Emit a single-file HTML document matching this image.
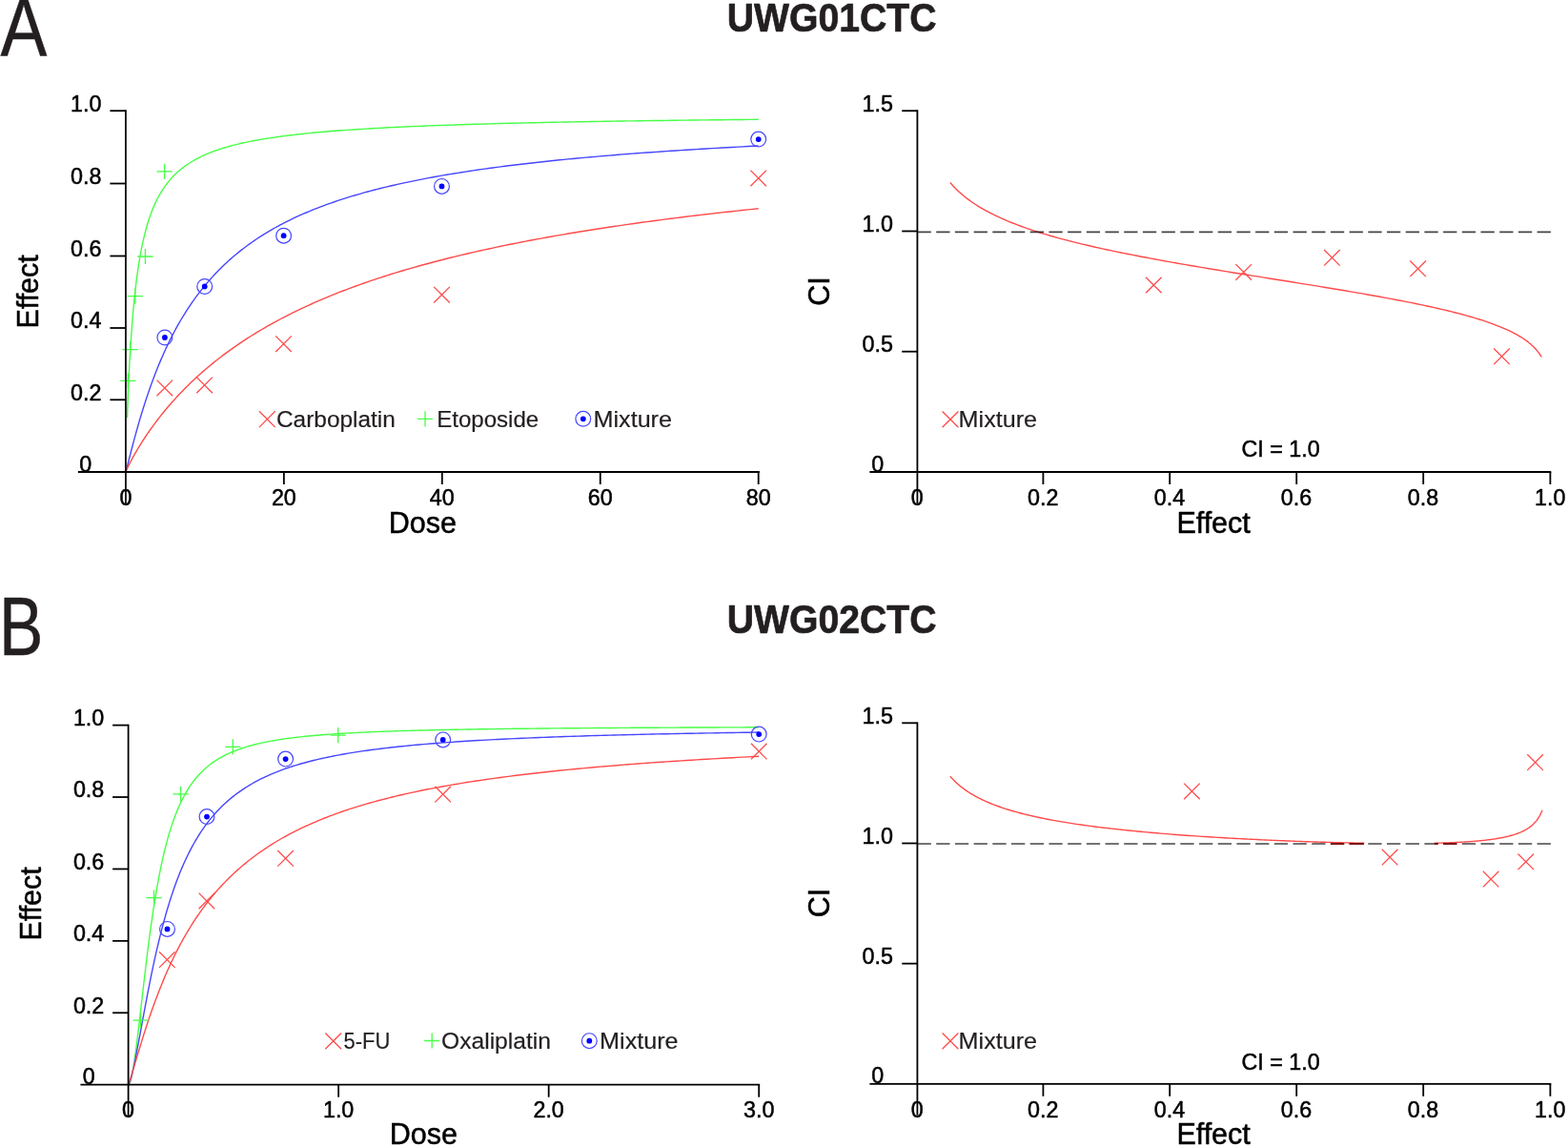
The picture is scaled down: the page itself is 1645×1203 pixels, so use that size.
<!DOCTYPE html>
<html lang="en">
<head>
<meta charset="utf-8">
<title>Dose-effect curves and combination index plots: UWG01CTC and UWG02CTC</title>
<style>
html,body{margin:0;padding:0;background:#fff;}
body{width:1645px;height:1203px;overflow:hidden;font-family:"Liberation Sans",sans-serif;}
svg{display:block;}
</style>
</head>
<body>
<svg width="1645" height="1203" viewBox="0 0 1645 1203" font-family="'Liberation Sans', sans-serif" role="img" aria-label="Dose-effect curves and combination index plots for UWG01CTC and UWG02CTC">
<rect width="1645" height="1203" fill="#ffffff"/>
<path d="M133.48 437.96L133.48 437.87L133.49 437.54L133.51 436.92L133.54 436.01L133.59 434.78L133.64 433.23L133.71 431.37L133.79 429.19L133.88 426.71L133.99 423.92L134.11 420.85L134.24 417.5L134.39 413.9L134.55 410.06L134.72 406.01L134.91 401.75L135.12 397.32L135.34 392.74L135.57 388.02L135.82 383.18L136.09 378.25L136.37 373.24L136.67 368.18L136.98 363.07L137.31 357.94L137.65 352.8L138.02 347.67L138.39 342.56L138.79 337.47L139.2 332.43L139.63 327.44L140.07 322.5L140.54 317.63L141.02 312.84L141.51 308.13L142.03 303.49L142.56 298.95L143.11 294.5L143.67 290.14L144.26 285.87L144.86 281.7L145.48 277.64L146.11 273.66L146.77 269.79L147.44 266.02L148.14 262.34L148.85 258.76L149.58 255.28L150.32 251.89L151.09 248.59L151.87 245.39L152.68 242.27L153.5 239.24L154.34 236.3L155.2 233.45L156.07 230.67L156.97 227.98L157.89 225.36L158.82 222.82L159.78 220.35L160.75 217.96L161.75 215.64L162.76 213.38L163.79 211.19L164.84 209.06L165.91 207L167.01 204.99L168.12 203.04L169.25 201.15L170.4 199.32L171.57 197.54L172.76 195.8L173.97 194.12L175.2 192.49L176.45 190.9L177.72 189.36L179.01 187.86L180.32 186.4L181.65 184.98L183.01 183.61L184.38 182.27L185.77 180.97L187.18 179.7L188.62 178.47L190.07 177.27L191.55 176.11L193.04 174.97L194.56 173.87L196.1 172.8L197.66 171.75L199.24 170.73L200.84 169.74L202.46 168.77L204.1 167.83L205.76 166.92L207.45 166.02L209.15 165.15L210.88 164.3L212.63 163.48L214.4 162.67L216.19 161.88L218 161.12L219.84 160.37L221.69 159.64L223.57 158.93L225.47 158.23L227.39 157.55L229.33 156.89L231.29 156.25L233.28 155.61L235.28 155L237.31 154.4L239.36 153.81L241.43 153.23L243.53 152.67L245.64 152.12L247.78 151.59L249.94 151.06L252.13 150.55L254.33 150.05L256.56 149.56L258.81 149.08L261.08 148.61L263.37 148.15L265.69 147.71L268.02 147.27L270.39 146.84L272.77 146.42L275.17 146L277.6 145.6L280.05 145.21L282.52 144.82L285.02 144.44L287.54 144.07L290.08 143.71L292.64 143.35L295.23 143L297.84 142.66L300.47 142.33L303.12 142L305.8 141.68L308.5 141.36L311.22 141.05L313.97 140.75L316.74 140.45L319.53 140.16L322.35 139.87L325.18 139.59L328.05 139.31L330.93 139.04L333.84 138.78L336.77 138.52L339.72 138.26L342.7 138.01L345.7 137.76L348.72 137.52L351.77 137.28L354.84 137.05L357.94 136.82L361.05 136.6L364.19 136.37L367.36 136.16L370.55 135.94L373.76 135.73L376.99 135.53L380.25 135.33L383.53 135.13L386.84 134.93L390.17 134.74L393.52 134.55L396.9 134.36L400.3 134.18L403.73 134L407.17 133.82L410.65 133.65L414.14 133.48L417.66 133.31L421.21 133.14L424.78 132.98L428.37 132.82L431.98 132.66L435.62 132.51L439.29 132.35L442.98 132.2L446.69 132.06L450.43 131.91L454.19 131.77L457.97 131.62L461.78 131.49L465.62 131.35L469.47 131.21L473.36 131.08L477.26 130.95L481.19 130.82L485.15 130.69L489.13 130.57L493.13 130.45L497.16 130.32L501.22 130.21L505.29 130.09L509.4 129.97L513.52 129.86L517.67 129.74L521.85 129.63L526.05 129.52L530.28 129.41L534.53 129.31L538.8 129.2L543.1 129.1L547.42 129L551.77 128.9L556.15 128.8L560.55 128.7L564.97 128.6L569.42 128.51L573.89 128.41L578.39 128.32L582.91 128.23L587.46 128.14L592.03 128.05L596.63 127.96L601.25 127.88L605.9 127.79L610.58 127.71L615.27 127.62L620 127.54L624.75 127.46L629.52 127.38L634.32 127.3L639.14 127.22L643.99 127.15L648.87 127.07L653.77 127L658.69 126.92L663.64 126.85L668.62 126.78L673.62 126.7L678.65 126.63L683.7 126.56L688.78 126.5L693.88 126.43L699.01 126.36L704.16 126.3L709.34 126.23L714.55 126.17L719.78 126.1L725.03 126.04L730.32 125.98L735.62 125.91L740.96 125.85L746.31 125.79L751.7 125.73L757.11 125.68L762.54 125.62L768.01 125.56L773.49 125.5L779.01 125.45L784.54 125.39L790.11 125.34L795.7 125.28" stroke="#46ff46" stroke-width="1.4" fill="none" stroke-linejoin="round" />
<path d="M131.9 495L131.9 494.99L131.91 494.96L131.94 494.9L131.97 494.79L132.01 494.65L132.07 494.47L132.13 494.23L132.21 493.95L132.31 493.62L132.41 493.23L132.53 492.79L132.66 492.3L132.81 491.74L132.97 491.13L133.15 490.46L133.34 489.72L133.54 488.93L133.77 488.07L134 487.15L134.25 486.17L134.52 485.13L134.8 484.02L135.1 482.85L135.41 481.62L135.74 480.32L136.09 478.97L136.45 477.55L136.83 476.07L137.23 474.53L137.64 472.94L138.07 471.28L138.51 469.57L138.98 467.8L139.46 465.98L139.95 464.1L140.47 462.17L141 460.19L141.55 458.16L142.12 456.08L142.71 453.95L143.31 451.78L143.93 449.57L144.57 447.31L145.23 445.02L145.9 442.68L146.59 440.31L147.31 437.91L148.04 435.47L148.79 433L149.55 430.51L150.34 427.98L151.14 425.43L151.97 422.86L152.81 420.26L153.67 417.64L154.55 415.01L155.45 412.36L156.37 409.69L157.31 407.01L158.27 404.32L159.24 401.62L160.24 398.92L161.25 396.2L162.29 393.48L163.34 390.76L164.42 388.03L165.51 385.31L166.62 382.58L167.76 379.86L168.91 377.14L170.08 374.42L171.28 371.72L172.49 369.01L173.72 366.32L174.98 363.64L176.25 360.96L177.54 358.3L178.86 355.65L180.19 353.01L181.55 350.39L182.92 347.78L184.32 345.19L185.74 342.62L187.17 340.06L188.63 337.52L190.11 334.99L191.61 332.49L193.13 330.01L194.67 327.54L196.23 325.1L197.82 322.68L199.42 320.27L201.04 317.89L202.69 315.54L204.36 313.2L206.05 310.89L207.76 308.6L209.49 306.33L211.24 304.08L213.01 301.86L214.81 299.67L216.63 297.49L218.46 295.34L220.32 293.21L222.21 291.11L224.11 289.03L226.03 286.98L227.98 284.95L229.95 282.94L231.94 280.95L233.95 278.99L235.98 277.06L238.04 275.14L240.11 273.25L242.21 271.39L244.34 269.55L246.48 267.73L248.64 265.93L250.83 264.16L253.04 262.4L255.27 260.68L257.53 258.97L259.8 257.29L262.1 255.62L264.43 253.98L266.77 252.36L269.13 250.77L271.52 249.19L273.93 247.64L276.37 246.1L278.82 244.59L281.3 243.1L283.8 241.62L286.33 240.17L288.87 238.74L291.44 237.32L294.04 235.93L296.65 234.55L299.29 233.2L301.95 231.86L304.63 230.54L307.34 229.24L310.07 227.95L312.82 226.69L315.6 225.44L318.4 224.21L321.22 222.99L324.06 221.8L326.93 220.62L329.82 219.45L332.74 218.3L335.68 217.17L338.64 216.05L341.62 214.95L344.63 213.87L347.66 212.8L350.71 211.74L353.79 210.7L356.89 209.67L360.02 208.66L363.17 207.66L366.34 206.67L369.53 205.7L372.75 204.74L376 203.8L379.26 202.87L382.55 201.95L385.87 201.04L389.2 200.15L392.57 199.26L395.95 198.39L399.36 197.54L402.79 196.69L406.25 195.86L409.73 195.03L413.23 194.22L416.76 193.42L420.32 192.63L423.89 191.85L427.49 191.08L431.12 190.32L434.77 189.57L438.44 188.83L442.14 188.11L445.86 187.39L449.61 186.68L453.38 185.98L457.17 185.29L460.99 184.61L464.83 183.93L468.7 183.27L472.59 182.62L476.51 181.97L480.45 181.33L484.41 180.71L488.4 180.08L492.41 179.47L496.45 178.87L500.51 178.27L504.6 177.68L508.71 177.1L512.85 176.53L517.01 175.96L521.2 175.4L525.41 174.85L529.64 174.3L533.9 173.77L538.19 173.24L542.5 172.71L546.83 172.19L551.19 171.68L555.58 171.18L559.99 170.68L564.42 170.19L568.88 169.7L573.36 169.22L577.87 168.75L582.41 168.28L586.96 167.82L591.55 167.37L596.16 166.91L600.79 166.47L605.45 166.03L610.14 165.6L614.84 165.17L619.58 164.74L624.34 164.33L629.12 163.91L633.93 163.5L638.77 163.1L643.63 162.7L648.52 162.31L653.43 161.92L658.37 161.54L663.33 161.16L668.32 160.78L673.33 160.41L678.37 160.04L683.43 159.68L688.52 159.33L693.64 158.97L698.78 158.62L703.94 158.28L709.14 157.94L714.35 157.6L719.6 157.27L724.87 156.94L730.16 156.61L735.48 156.29L740.83 155.97L746.2 155.66L751.59 155.35L757.02 155.04L762.47 154.73L767.94 154.43L773.44 154.14L778.97 153.84L784.52 153.55L790.1 153.27L795.7 152.98" stroke="#4646ff" stroke-width="1.4" fill="none" stroke-linejoin="round" />
<path d="M131.9 495L131.9 494.99L131.91 494.95L131.94 494.89L131.97 494.8L132.01 494.69L132.07 494.54L132.13 494.37L132.21 494.18L132.31 493.95L132.41 493.7L132.53 493.42L132.66 493.12L132.81 492.78L132.97 492.42L133.15 492.03L133.34 491.62L133.54 491.17L133.77 490.7L134 490.21L134.25 489.68L134.52 489.13L134.8 488.55L135.1 487.95L135.41 487.32L135.74 486.67L136.09 485.98L136.45 485.28L136.83 484.55L137.23 483.79L137.64 483.01L138.07 482.2L138.51 481.37L138.98 480.52L139.46 479.64L139.95 478.74L140.47 477.82L141 476.87L141.55 475.91L142.12 474.92L142.71 473.91L143.31 472.87L143.93 471.82L144.57 470.75L145.23 469.66L145.9 468.55L146.59 467.42L147.31 466.27L148.04 465.1L148.79 463.92L149.55 462.71L150.34 461.5L151.14 460.26L151.97 459.01L152.81 457.74L153.67 456.46L154.55 455.16L155.45 453.85L156.37 452.52L157.31 451.18L158.27 449.83L159.24 448.47L160.24 447.09L161.25 445.7L162.29 444.3L163.34 442.89L164.42 441.47L165.51 440.04L166.62 438.59L167.76 437.14L168.91 435.68L170.08 434.22L171.28 432.74L172.49 431.26L173.72 429.77L174.98 428.27L176.25 426.76L177.54 425.25L178.86 423.74L180.19 422.21L181.55 420.69L182.92 419.16L184.32 417.62L185.74 416.08L187.17 414.54L188.63 412.99L190.11 411.44L191.61 409.89L193.13 408.34L194.67 406.78L196.23 405.23L197.82 403.67L199.42 402.11L201.04 400.55L202.69 398.99L204.36 397.43L206.05 395.87L207.76 394.31L209.49 392.75L211.24 391.19L213.01 389.64L214.81 388.08L216.63 386.53L218.46 384.98L220.32 383.43L222.21 381.88L224.11 380.34L226.03 378.79L227.98 377.26L229.95 375.72L231.94 374.19L233.95 372.66L235.98 371.14L238.04 369.62L240.11 368.1L242.21 366.59L244.34 365.09L246.48 363.58L248.64 362.09L250.83 360.6L253.04 359.11L255.27 357.63L257.53 356.15L259.8 354.68L262.1 353.22L264.43 351.76L266.77 350.31L269.13 348.86L271.52 347.42L273.93 345.98L276.37 344.56L278.82 343.14L281.3 341.72L283.8 340.31L286.33 338.91L288.87 337.52L291.44 336.13L294.04 334.75L296.65 333.37L299.29 332.01L301.95 330.65L304.63 329.29L307.34 327.95L310.07 326.61L312.82 325.28L315.6 323.95L318.4 322.64L321.22 321.33L324.06 320.03L326.93 318.74L329.82 317.45L332.74 316.17L335.68 314.9L338.64 313.64L341.62 312.38L344.63 311.13L347.66 309.89L350.71 308.66L353.79 307.43L356.89 306.22L360.02 305.01L363.17 303.8L366.34 302.61L369.53 301.42L372.75 300.24L376 299.07L379.26 297.91L382.55 296.75L385.87 295.6L389.2 294.46L392.57 293.33L395.95 292.2L399.36 291.09L402.79 289.98L406.25 288.87L409.73 287.78L413.23 286.69L416.76 285.61L420.32 284.54L423.89 283.47L427.49 282.41L431.12 281.36L434.77 280.32L438.44 279.28L442.14 278.26L445.86 277.24L449.61 276.22L453.38 275.22L457.17 274.22L460.99 273.22L464.83 272.24L468.7 271.26L472.59 270.29L476.51 269.33L480.45 268.37L484.41 267.42L488.4 266.48L492.41 265.54L496.45 264.61L500.51 263.69L504.6 262.77L508.71 261.87L512.85 260.96L517.01 260.07L521.2 259.18L525.41 258.3L529.64 257.42L533.9 256.55L538.19 255.69L542.5 254.83L546.83 253.98L551.19 253.14L555.58 252.3L559.99 251.47L564.42 250.65L568.88 249.83L573.36 249.02L577.87 248.21L582.41 247.41L586.96 246.62L591.55 245.83L596.16 245.05L600.79 244.27L605.45 243.5L610.14 242.74L614.84 241.98L619.58 241.22L624.34 240.48L629.12 239.74L633.93 239L638.77 238.27L643.63 237.54L648.52 236.82L653.43 236.11L658.37 235.4L663.33 234.7L668.32 234L673.33 233.31L678.37 232.62L683.43 231.94L688.52 231.26L693.64 230.59L698.78 229.92L703.94 229.26L709.14 228.6L714.35 227.95L719.6 227.3L724.87 226.66L730.16 226.03L735.48 225.39L740.83 224.77L746.2 224.14L751.59 223.52L757.02 222.91L762.47 222.3L767.94 221.7L773.44 221.1L778.97 220.5L784.52 219.91L790.1 219.33L795.7 218.74" stroke="#ff4a4a" stroke-width="1.4" fill="none" stroke-linejoin="round" />
<path d="M164.5 179.9L180.7 179.9M172.6 171.8L172.6 188" stroke="#46ff46" stroke-width="1.3" fill="none"/>
<path d="M144.3 269L160.5 269M152.4 260.9L152.4 277.1" stroke="#46ff46" stroke-width="1.3" fill="none"/>
<path d="M133.7 310.7L149.9 310.7M141.8 302.6L141.8 318.8" stroke="#46ff46" stroke-width="1.3" fill="none"/>
<path d="M128.5 366.6L144.7 366.6M136.6 358.5L136.6 374.7" stroke="#46ff46" stroke-width="1.3" fill="none"/>
<path d="M126.2 399.3L142.4 399.3M134.3 391.2L134.3 407.4" stroke="#46ff46" stroke-width="1.3" fill="none"/>
<circle cx="172.9" cy="354" r="7.9" stroke="#4646ff" stroke-width="1.2" fill="none"/>
<circle cx="172.9" cy="354" r="2.9" fill="#0000ff"/>
<circle cx="214.7" cy="300.5" r="7.9" stroke="#4646ff" stroke-width="1.2" fill="none"/>
<circle cx="214.7" cy="300.5" r="2.9" fill="#0000ff"/>
<circle cx="297.6" cy="247.2" r="7.9" stroke="#4646ff" stroke-width="1.2" fill="none"/>
<circle cx="297.6" cy="247.2" r="2.9" fill="#0000ff"/>
<circle cx="463.5" cy="195.4" r="7.9" stroke="#4646ff" stroke-width="1.2" fill="none"/>
<circle cx="463.5" cy="195.4" r="2.9" fill="#0000ff"/>
<circle cx="795.7" cy="146.1" r="7.9" stroke="#4646ff" stroke-width="1.2" fill="none"/>
<circle cx="795.7" cy="146.1" r="2.9" fill="#0000ff"/>
<path d="M164.5 398.6L181.1 415.2M164.5 415.2L181.1 398.6" stroke="#ff4a4a" stroke-width="1.3" fill="none"/>
<path d="M206.3 395.6L222.9 412.2M206.3 412.2L222.9 395.6" stroke="#ff4a4a" stroke-width="1.3" fill="none"/>
<path d="M289.2 352.4L305.8 369M289.2 369L305.8 352.4" stroke="#ff4a4a" stroke-width="1.3" fill="none"/>
<path d="M455.2 300.9L471.8 317.5M455.2 317.5L471.8 300.9" stroke="#ff4a4a" stroke-width="1.3" fill="none"/>
<path d="M787.4 178.6L804 195.2M787.4 195.2L804 178.6" stroke="#ff4a4a" stroke-width="1.3" fill="none"/>
<line x1="131.9" y1="115.3" x2="131.9" y2="528" stroke="#000000" stroke-width="1.8" />
<line x1="81.9" y1="495" x2="796.9" y2="495" stroke="#000000" stroke-width="1.8" />
<line x1="115.4" y1="116.2" x2="131.9" y2="116.2" stroke="#000000" stroke-width="1.8" />
<line x1="115.4" y1="192.5" x2="131.9" y2="192.5" stroke="#000000" stroke-width="1.8" />
<line x1="115.4" y1="268.5" x2="131.9" y2="268.5" stroke="#000000" stroke-width="1.8" />
<line x1="115.4" y1="344" x2="131.9" y2="344" stroke="#000000" stroke-width="1.8" />
<line x1="115.4" y1="419.3" x2="131.9" y2="419.3" stroke="#000000" stroke-width="1.8" />
<line x1="297.85" y1="495" x2="297.85" y2="508" stroke="#000000" stroke-width="1.8" />
<line x1="463.8" y1="495" x2="463.8" y2="508" stroke="#000000" stroke-width="1.8" />
<line x1="629.75" y1="495" x2="629.75" y2="508" stroke="#000000" stroke-width="1.8" />
<line x1="795.7" y1="495" x2="795.7" y2="508" stroke="#000000" stroke-width="1.8" />
<text x="106.4" y="116.7" font-size="23.3" text-anchor="end" fill="#000000" transform="translate(0 116.7) scale(1 1.02) translate(0 -116.7)" stroke="#000000" stroke-width="0.5" stroke-linejoin="round">1.0</text>
<text x="106.4" y="193" font-size="23.3" text-anchor="end" fill="#000000" transform="translate(0 193) scale(1 1.02) translate(0 -193)" stroke="#000000" stroke-width="0.5" stroke-linejoin="round">0.8</text>
<text x="106.4" y="269" font-size="23.3" text-anchor="end" fill="#000000" transform="translate(0 269) scale(1 1.02) translate(0 -269)" stroke="#000000" stroke-width="0.5" stroke-linejoin="round">0.6</text>
<text x="106.4" y="344.5" font-size="23.3" text-anchor="end" fill="#000000" transform="translate(0 344.5) scale(1 1.02) translate(0 -344.5)" stroke="#000000" stroke-width="0.5" stroke-linejoin="round">0.4</text>
<text x="106.4" y="419.8" font-size="23.3" text-anchor="end" fill="#000000" transform="translate(0 419.8) scale(1 1.02) translate(0 -419.8)" stroke="#000000" stroke-width="0.5" stroke-linejoin="round">0.2</text>
<text x="96.3" y="494.6" font-size="23.3" text-anchor="end" fill="#000000" transform="translate(0 494.6) scale(1 1.02) translate(0 -494.6)" stroke="#000000" stroke-width="0.5" stroke-linejoin="round">0</text>
<text x="131.9" y="529.8" font-size="23.3" text-anchor="middle" fill="#000000" transform="translate(0 529.8) scale(1 1.02) translate(0 -529.8)" stroke="#000000" stroke-width="0.5" stroke-linejoin="round">0</text>
<text x="297.85" y="529.8" font-size="23.3" text-anchor="middle" fill="#000000" transform="translate(0 529.8) scale(1 1.02) translate(0 -529.8)" stroke="#000000" stroke-width="0.5" stroke-linejoin="round">20</text>
<text x="463.8" y="529.8" font-size="23.3" text-anchor="middle" fill="#000000" transform="translate(0 529.8) scale(1 1.02) translate(0 -529.8)" stroke="#000000" stroke-width="0.5" stroke-linejoin="round">40</text>
<text x="629.75" y="529.8" font-size="23.3" text-anchor="middle" fill="#000000" transform="translate(0 529.8) scale(1 1.02) translate(0 -529.8)" stroke="#000000" stroke-width="0.5" stroke-linejoin="round">60</text>
<text x="795.7" y="529.8" font-size="23.3" text-anchor="middle" fill="#000000" transform="translate(0 529.8) scale(1 1.02) translate(0 -529.8)" stroke="#000000" stroke-width="0.5" stroke-linejoin="round">80</text>
<text x="443.3" y="558.7" font-size="30.5" text-anchor="middle" fill="#000000" transform="translate(0 558.7) scale(1 1.045) translate(0 -558.7)" stroke="#000000" stroke-width="0.5" stroke-linejoin="round">Dose</text>
<text x="40" y="305.9" font-size="30.5" text-anchor="middle" fill="#000000" transform="rotate(-90 40 305.9) translate(0 305.9) scale(1 1.045) translate(0 -305.9)" stroke="#000000" stroke-width="0.5" stroke-linejoin="round">Effect</text>
<path d="M271.95 431.3L288.75 448.1M271.95 448.1L288.75 431.3" stroke="#ff4a4a" stroke-width="1.3" fill="none"/>
<text x="290" y="447.9" font-size="24.3" text-anchor="start" fill="#231f20" textLength="124.8" lengthAdjust="spacingAndGlyphs" stroke="#231f20" stroke-width="0.2" stroke-linejoin="round">Carboplatin</text>
<path d="M437.9 439.4L454.1 439.4M446 431.3L446 447.5" stroke="#46ff46" stroke-width="1.3" fill="none"/>
<text x="458.2" y="447.9" font-size="24.3" text-anchor="start" fill="#231f20" textLength="107" lengthAdjust="spacingAndGlyphs" stroke="#231f20" stroke-width="0.2" stroke-linejoin="round">Etoposide</text>
<circle cx="611.8" cy="439.3" r="7.9" stroke="#4646ff" stroke-width="1.2" fill="none"/>
<circle cx="611.8" cy="439.3" r="2.9" fill="#0000ff"/>
<text x="622.5" y="447.9" font-size="24.3" text-anchor="start" fill="#231f20" textLength="82.5" lengthAdjust="spacingAndGlyphs" stroke="#231f20" stroke-width="0.2" stroke-linejoin="round">Mixture</text>
<path d="M996.8 191.38L996.84 191.42L996.95 191.56L997.14 191.79L997.41 192.1L997.76 192.5L998.18 192.99L998.67 193.55L999.25 194.19L999.89 194.91L1000.62 195.69L1001.42 196.53L1002.29 197.44L1003.25 198.39L1004.27 199.4L1005.37 200.45L1006.55 201.54L1007.79 202.66L1009.12 203.82L1010.51 205L1011.98 206.21L1013.52 207.43L1015.14 208.67L1016.83 209.93L1018.58 211.2L1020.41 212.47L1022.31 213.75L1024.28 215.03L1026.32 216.32L1028.43 217.6L1030.61 218.89L1032.86 220.17L1035.17 221.44L1037.55 222.71L1040 223.97L1042.51 225.23L1045.09 226.48L1047.73 227.72L1050.44 228.95L1053.21 230.17L1056.04 231.38L1058.94 232.58L1061.89 233.77L1064.91 234.95L1067.99 236.12L1071.12 237.27L1074.32 238.42L1077.57 239.56L1080.87 240.68L1084.24 241.79L1087.66 242.9L1091.13 243.99L1094.65 245.07L1098.23 246.14L1101.86 247.21L1105.54 248.26L1109.27 249.3L1113.05 250.33L1116.88 251.35L1120.75 252.36L1124.67 253.37L1128.63 254.36L1132.64 255.35L1136.69 256.32L1140.79 257.29L1144.92 258.25L1149.1 259.2L1153.31 260.14L1157.56 261.08L1161.85 262.01L1166.17 262.93L1170.53 263.84L1174.92 264.75L1179.35 265.65L1183.8 266.54L1188.29 267.43L1192.81 268.31L1197.35 269.19L1201.92 270.05L1206.52 270.92L1211.14 271.78L1215.79 272.63L1220.46 273.48L1225.15 274.32L1229.86 275.16L1234.59 275.99L1239.33 276.82L1244.1 277.65L1248.87 278.47L1253.67 279.28L1258.47 280.1L1263.29 280.91L1268.12 281.71L1272.96 282.52L1277.81 283.31L1282.66 284.11L1287.52 284.91L1292.39 285.7L1297.26 286.49L1302.13 287.27L1307 288.06L1311.87 288.84L1316.74 289.62L1321.61 290.4L1326.48 291.18L1331.34 291.95L1336.19 292.72L1341.04 293.5L1345.88 294.27L1350.71 295.04L1355.53 295.81L1360.33 296.58L1365.13 297.35L1369.9 298.12L1374.67 298.89L1379.41 299.66L1384.14 300.43L1388.85 301.2L1393.54 301.96L1398.21 302.73L1402.86 303.51L1407.48 304.28L1412.08 305.05L1416.65 305.82L1421.19 306.6L1425.71 307.38L1430.2 308.16L1434.65 308.94L1439.08 309.72L1443.47 310.5L1447.83 311.29L1452.15 312.08L1456.44 312.87L1460.69 313.66L1464.9 314.46L1469.08 315.26L1473.21 316.07L1477.31 316.87L1481.36 317.68L1485.37 318.5L1489.33 319.32L1493.25 320.14L1497.12 320.97L1500.95 321.8L1504.73 322.64L1508.46 323.48L1512.14 324.33L1515.77 325.19L1519.35 326.05L1522.87 326.91L1526.34 327.78L1529.76 328.66L1533.13 329.55L1536.43 330.44L1539.68 331.34L1542.88 332.25L1546.01 333.16L1549.09 334.08L1552.11 335.01L1555.06 335.95L1557.96 336.9L1560.79 337.86L1563.56 338.82L1566.27 339.8L1568.91 340.79L1571.49 341.78L1574 342.79L1576.45 343.8L1578.83 344.83L1581.14 345.86L1583.39 346.91L1585.57 347.97L1587.68 349.04L1589.72 350.11L1591.69 351.2L1593.59 352.3L1595.42 353.4L1597.17 354.52L1598.86 355.64L1600.48 356.77L1602.02 357.9L1603.49 359.04L1604.88 360.17L1606.21 361.31L1607.45 362.44L1608.63 363.56L1609.73 364.67L1610.75 365.76L1611.71 366.82L1612.58 367.85L1613.38 368.85L1614.11 369.79L1614.75 370.68L1615.33 371.5L1615.82 372.23L1616.24 372.88L1616.59 373.43L1616.86 373.87L1617.05 374.19L1617.16 374.38L1617.2 374.45" stroke="#ff4a4a" stroke-width="1.4" fill="none" stroke-linejoin="round" />
<line x1="962.5" y1="243.3" x2="1627" y2="243.3" stroke="#454545" stroke-width="1.7" stroke-dasharray="14.3 5.4" style="mix-blend-mode:multiply"/>
<path d="M1202 290.7L1218.6 307.3M1202 307.3L1218.6 290.7" stroke="#ff4a4a" stroke-width="1.3" fill="none"/>
<path d="M1296.4 277.1L1313 293.7M1296.4 293.7L1313 277.1" stroke="#ff4a4a" stroke-width="1.3" fill="none"/>
<path d="M1389.1 262L1405.7 278.6M1389.1 278.6L1405.7 262" stroke="#ff4a4a" stroke-width="1.3" fill="none"/>
<path d="M1479.3 273.5L1495.9 290.1M1479.3 290.1L1495.9 273.5" stroke="#ff4a4a" stroke-width="1.3" fill="none"/>
<path d="M1567.2 365.5L1583.8 382.1M1567.2 382.1L1583.8 365.5" stroke="#ff4a4a" stroke-width="1.3" fill="none"/>
<line x1="962.4" y1="115.3" x2="962.4" y2="528" stroke="#000000" stroke-width="1.8" />
<line x1="912.4" y1="495" x2="1627.3" y2="495" stroke="#000000" stroke-width="1.8" />
<line x1="946.2" y1="368.73" x2="962.4" y2="368.73" stroke="#000000" stroke-width="1.8" />
<line x1="946.2" y1="242.47" x2="962.4" y2="242.47" stroke="#000000" stroke-width="1.8" />
<line x1="946.2" y1="116.2" x2="962.4" y2="116.2" stroke="#000000" stroke-width="1.8" />
<line x1="1094.4" y1="495" x2="1094.4" y2="508" stroke="#000000" stroke-width="1.8" />
<line x1="1227.2" y1="495" x2="1227.2" y2="508" stroke="#000000" stroke-width="1.8" />
<line x1="1360.2" y1="495" x2="1360.2" y2="508" stroke="#000000" stroke-width="1.8" />
<line x1="1493.2" y1="495" x2="1493.2" y2="508" stroke="#000000" stroke-width="1.8" />
<line x1="1626.4" y1="495" x2="1626.4" y2="508" stroke="#000000" stroke-width="1.8" />
<text x="937" y="116.7" font-size="23.3" text-anchor="end" fill="#000000" transform="translate(0 116.7) scale(1 1.02) translate(0 -116.7)" stroke="#000000" stroke-width="0.5" stroke-linejoin="round">1.5</text>
<text x="937" y="242.97" font-size="23.3" text-anchor="end" fill="#000000" transform="translate(0 242.97) scale(1 1.02) translate(0 -242.97)" stroke="#000000" stroke-width="0.5" stroke-linejoin="round">1.0</text>
<text x="937" y="369.23" font-size="23.3" text-anchor="end" fill="#000000" transform="translate(0 369.23) scale(1 1.02) translate(0 -369.23)" stroke="#000000" stroke-width="0.5" stroke-linejoin="round">0.5</text>
<text x="927.1" y="494.6" font-size="23.3" text-anchor="end" fill="#000000" transform="translate(0 494.6) scale(1 1.02) translate(0 -494.6)" stroke="#000000" stroke-width="0.5" stroke-linejoin="round">0</text>
<text x="962.2" y="529.8" font-size="23.3" text-anchor="middle" fill="#000000" transform="translate(0 529.8) scale(1 1.02) translate(0 -529.8)" stroke="#000000" stroke-width="0.5" stroke-linejoin="round">0</text>
<text x="1094.2" y="529.8" font-size="23.3" text-anchor="middle" fill="#000000" transform="translate(0 529.8) scale(1 1.02) translate(0 -529.8)" stroke="#000000" stroke-width="0.5" stroke-linejoin="round">0.2</text>
<text x="1227" y="529.8" font-size="23.3" text-anchor="middle" fill="#000000" transform="translate(0 529.8) scale(1 1.02) translate(0 -529.8)" stroke="#000000" stroke-width="0.5" stroke-linejoin="round">0.4</text>
<text x="1360" y="529.8" font-size="23.3" text-anchor="middle" fill="#000000" transform="translate(0 529.8) scale(1 1.02) translate(0 -529.8)" stroke="#000000" stroke-width="0.5" stroke-linejoin="round">0.6</text>
<text x="1493" y="529.8" font-size="23.3" text-anchor="middle" fill="#000000" transform="translate(0 529.8) scale(1 1.02) translate(0 -529.8)" stroke="#000000" stroke-width="0.5" stroke-linejoin="round">0.8</text>
<text x="1626.2" y="529.8" font-size="23.3" text-anchor="middle" fill="#000000" transform="translate(0 529.8) scale(1 1.02) translate(0 -529.8)" stroke="#000000" stroke-width="0.5" stroke-linejoin="round">1.0</text>
<text x="1273.1" y="558.6" font-size="30.5" text-anchor="middle" fill="#000000" transform="translate(0 558.6) scale(1 1.045) translate(0 -558.6)" stroke="#000000" stroke-width="0.5" stroke-linejoin="round">Effect</text>
<text x="870.5" y="305.5" font-size="30.5" text-anchor="middle" fill="#000000" transform="rotate(-90 870.5 305.5) translate(0 305.5) scale(1 1.045) translate(0 -305.5)" stroke="#000000" stroke-width="0.5" stroke-linejoin="round">CI</text>
<path d="M988.6 431.5L1005.4 448.3M988.6 448.3L1005.4 431.5" stroke="#ff4a4a" stroke-width="1.3" fill="none"/>
<text x="1005.6" y="447.9" font-size="24.3" text-anchor="start" fill="#231f20" textLength="82.5" lengthAdjust="spacingAndGlyphs" stroke="#231f20" stroke-width="0.2" stroke-linejoin="round">Mixture</text>
<text x="1343.5" y="478.7" font-size="23.3" text-anchor="middle" fill="#000000" transform="translate(0 478.7) scale(1 1.02) translate(0 -478.7)" stroke="#000000" stroke-width="0.5" stroke-linejoin="round">CI = 1.0</text>
<path d="M134.6 1137.7L134.6 1137.7L134.61 1137.7L134.64 1137.7L134.67 1137.69L134.71 1137.68L134.77 1137.67L134.83 1137.64L134.91 1137.59L135 1137.53L135.11 1137.44L135.23 1137.32L135.36 1137.16L135.51 1136.96L135.67 1136.7L135.84 1136.38L136.03 1135.98L136.24 1135.51L136.46 1134.95L136.69 1134.28L136.94 1133.5L137.21 1132.6L137.49 1131.56L137.79 1130.38L138.1 1129.04L138.43 1127.53L138.77 1125.84L139.14 1123.96L139.51 1121.87L139.91 1119.58L140.32 1117.07L140.75 1114.33L141.19 1111.36L141.65 1108.15L142.13 1104.7L142.63 1101L143.14 1097.06L143.67 1092.87L144.22 1088.44L144.79 1083.77L145.37 1078.88L145.97 1073.76L146.59 1068.43L147.23 1062.9L147.88 1057.18L148.55 1051.29L149.25 1045.25L149.96 1039.06L150.68 1032.75L151.43 1026.34L152.19 1019.84L152.98 1013.28L153.78 1006.67L154.6 1000.03L155.44 993.38L156.3 986.74L157.18 980.12L158.07 973.55L158.99 967.03L159.92 960.58L160.88 954.21L161.85 947.94L162.84 941.77L163.85 935.72L164.89 929.79L165.94 924L167.01 918.34L168.1 912.82L169.21 907.45L170.34 902.22L171.49 897.15L172.66 892.23L173.84 887.46L175.05 882.84L176.28 878.38L177.53 874.06L178.8 869.9L180.09 865.88L181.4 862L182.73 858.26L184.08 854.66L185.45 851.2L186.84 847.87L188.26 844.66L189.69 841.58L191.14 838.61L192.62 835.77L194.11 833.03L195.63 830.4L197.16 827.88L198.72 825.45L200.3 823.13L201.89 820.9L203.51 818.75L205.16 816.69L206.82 814.72L208.5 812.82L210.2 811L211.93 809.26L213.68 807.58L215.44 805.97L217.23 804.43L219.04 802.95L220.88 801.52L222.73 800.16L224.6 798.84L226.5 797.58L228.42 796.37L230.36 795.21L232.32 794.09L234.3 793.02L236.31 791.99L238.34 790.99L240.38 790.04L242.45 789.12L244.55 788.24L246.66 787.39L248.8 786.58L250.96 785.79L253.14 785.03L255.34 784.31L257.56 783.61L259.81 782.93L262.08 782.28L264.37 781.66L266.68 781.05L269.02 780.47L271.38 779.91L273.76 779.37L276.16 778.85L278.59 778.35L281.03 777.86L283.51 777.4L286 776.94L288.51 776.51L291.05 776.09L293.61 775.68L296.2 775.29L298.8 774.91L301.43 774.55L304.08 774.19L306.76 773.85L309.46 773.52L312.18 773.2L314.92 772.89L317.69 772.59L320.48 772.31L323.29 772.03L326.12 771.76L328.98 771.49L331.86 771.24L334.77 770.99L337.7 770.76L340.65 770.53L343.62 770.3L346.62 770.09L349.64 769.88L352.69 769.67L355.75 769.48L358.84 769.29L361.96 769.1L365.1 768.92L368.26 768.75L371.44 768.58L374.65 768.41L377.88 768.26L381.14 768.1L384.42 767.95L387.72 767.81L391.05 767.66L394.4 767.53L397.77 767.39L401.17 767.26L404.59 767.14L408.04 767.01L411.51 766.89L415 766.78L418.52 766.67L422.06 766.56L425.62 766.45L429.21 766.35L432.82 766.25L436.46 766.15L440.12 766.05L443.81 765.96L447.51 765.87L451.25 765.78L455 765.69L458.79 765.61L462.59 765.53L466.42 765.45L470.28 765.37L474.16 765.3L478.06 765.22L481.99 765.15L485.94 765.08L489.91 765.02L493.91 764.95L497.94 764.88L501.99 764.82L506.06 764.76L510.16 764.7L514.28 764.64L518.43 764.58L522.6 764.53L526.8 764.48L531.02 764.42L535.27 764.37L539.54 764.32L543.83 764.27L548.15 764.22L552.5 764.18L556.87 764.13L561.26 764.08L565.68 764.04L570.12 764L574.59 763.96L579.09 763.92L583.61 763.88L588.15 763.84L592.72 763.8L597.31 763.76L601.93 763.72L606.57 763.69L611.24 763.65L615.94 763.62L620.66 763.59L625.4 763.55L630.17 763.52L634.96 763.49L639.78 763.46L644.63 763.43L649.5 763.4L654.39 763.37L659.31 763.34L664.26 763.32L669.23 763.29L674.23 763.26L679.25 763.24L684.3 763.21L689.37 763.19L694.47 763.16L699.59 763.14L704.74 763.12L709.91 763.09L715.11 763.07L720.34 763.05L725.59 763.03L730.87 763.01L736.17 762.99L741.5 762.97L746.85 762.95L752.23 762.93L757.64 762.91L763.07 762.89L768.52 762.87L774 762.86L779.51 762.84L785.05 762.82L790.6 762.8L796.19 762.79" stroke="#46ff46" stroke-width="1.4" fill="none" stroke-linejoin="round" />
<path d="M134.6 1137.7L134.6 1137.7L134.61 1137.7L134.64 1137.69L134.67 1137.67L134.71 1137.64L134.77 1137.59L134.83 1137.52L134.91 1137.42L135 1137.29L135.11 1137.13L135.23 1136.93L135.36 1136.67L135.51 1136.37L135.67 1136.01L135.84 1135.59L136.03 1135.11L136.24 1134.55L136.46 1133.92L136.69 1133.21L136.94 1132.41L137.21 1131.52L137.49 1130.53L137.79 1129.45L138.1 1128.26L138.43 1126.96L138.77 1125.56L139.14 1124.04L139.51 1122.4L139.91 1120.64L140.32 1118.77L140.75 1116.77L141.19 1114.64L141.65 1112.39L142.13 1110.01L142.63 1107.51L143.14 1104.88L143.67 1102.12L144.22 1099.24L144.79 1096.24L145.37 1093.13L145.97 1089.89L146.59 1086.54L147.23 1083.08L147.88 1079.52L148.55 1075.85L149.25 1072.09L149.96 1068.23L150.68 1064.29L151.43 1060.27L152.19 1056.17L152.98 1052.01L153.78 1047.78L154.6 1043.5L155.44 1039.16L156.3 1034.78L157.18 1030.37L158.07 1025.92L158.99 1021.45L159.92 1016.97L160.88 1012.47L161.85 1007.96L162.84 1003.45L163.85 998.95L164.89 994.46L165.94 989.99L167.01 985.54L168.1 981.11L169.21 976.71L170.34 972.35L171.49 968.02L172.66 963.74L173.84 959.5L175.05 955.31L176.28 951.18L177.53 947.1L178.8 943.07L180.09 939.1L181.4 935.19L182.73 931.35L184.08 927.57L185.45 923.85L186.84 920.2L188.26 916.61L189.69 913.09L191.14 909.64L192.62 906.26L194.11 902.95L195.63 899.7L197.16 896.52L198.72 893.41L200.3 890.37L201.89 887.39L203.51 884.48L205.16 881.63L206.82 878.85L208.5 876.14L210.2 873.48L211.93 870.89L213.68 868.36L215.44 865.9L217.23 863.49L219.04 861.14L220.88 858.84L222.73 856.61L224.6 854.43L226.5 852.3L228.42 850.23L230.36 848.2L232.32 846.23L234.3 844.31L236.31 842.44L238.34 840.61L240.38 838.83L242.45 837.1L244.55 835.41L246.66 833.76L248.8 832.15L250.96 830.59L253.14 829.07L255.34 827.58L257.56 826.13L259.81 824.72L262.08 823.35L264.37 822.01L266.68 820.7L269.02 819.43L271.38 818.19L273.76 816.98L276.16 815.8L278.59 814.65L281.03 813.53L283.51 812.44L286 811.38L288.51 810.34L291.05 809.33L293.61 808.34L296.2 807.38L298.8 806.45L301.43 805.53L304.08 804.64L306.76 803.77L309.46 802.92L312.18 802.09L314.92 801.29L317.69 800.5L320.48 799.73L323.29 798.98L326.12 798.25L328.98 797.54L331.86 796.84L334.77 796.16L337.7 795.5L340.65 794.85L343.62 794.21L346.62 793.6L349.64 792.99L352.69 792.4L355.75 791.83L358.84 791.26L361.96 790.72L365.1 790.18L368.26 789.65L371.44 789.14L374.65 788.64L377.88 788.15L381.14 787.67L384.42 787.21L387.72 786.75L391.05 786.3L394.4 785.87L397.77 785.44L401.17 785.02L404.59 784.61L408.04 784.22L411.51 783.82L415 783.44L418.52 783.07L422.06 782.7L425.62 782.35L429.21 782L432.82 781.65L436.46 781.32L440.12 780.99L443.81 780.67L447.51 780.35L451.25 780.04L455 779.74L458.79 779.45L462.59 779.16L466.42 778.88L470.28 778.6L474.16 778.33L478.06 778.06L481.99 777.8L485.94 777.54L489.91 777.29L493.91 777.05L497.94 776.81L501.99 776.57L506.06 776.34L510.16 776.11L514.28 775.89L518.43 775.67L522.6 775.46L526.8 775.25L531.02 775.04L535.27 774.84L539.54 774.65L543.83 774.45L548.15 774.26L552.5 774.08L556.87 773.89L561.26 773.71L565.68 773.54L570.12 773.36L574.59 773.19L579.09 773.03L583.61 772.86L588.15 772.7L592.72 772.55L597.31 772.39L601.93 772.24L606.57 772.09L611.24 771.94L615.94 771.8L620.66 771.66L625.4 771.52L630.17 771.39L634.96 771.25L639.78 771.12L644.63 770.99L649.5 770.86L654.39 770.74L659.31 770.62L664.26 770.5L669.23 770.38L674.23 770.26L679.25 770.15L684.3 770.04L689.37 769.92L694.47 769.82L699.59 769.71L704.74 769.6L709.91 769.5L715.11 769.4L720.34 769.3L725.59 769.2L730.87 769.11L736.17 769.01L741.5 768.92L746.85 768.83L752.23 768.73L757.64 768.65L763.07 768.56L768.52 768.47L774 768.39L779.51 768.3L785.05 768.22L790.6 768.14L796.19 768.06" stroke="#4646ff" stroke-width="1.4" fill="none" stroke-linejoin="round" />
<path d="M134.6 1137.7L134.6 1137.7L134.61 1137.68L134.64 1137.64L134.67 1137.58L134.71 1137.49L134.77 1137.36L134.83 1137.21L134.91 1137.01L135 1136.78L135.11 1136.5L135.23 1136.18L135.36 1135.81L135.51 1135.39L135.67 1134.93L135.84 1134.41L136.03 1133.84L136.24 1133.22L136.46 1132.54L136.69 1131.81L136.94 1131.02L137.21 1130.17L137.49 1129.26L137.79 1128.3L138.1 1127.27L138.43 1126.19L138.77 1125.05L139.14 1123.84L139.51 1122.58L139.91 1121.25L140.32 1119.87L140.75 1118.43L141.19 1116.93L141.65 1115.37L142.13 1113.75L142.63 1112.07L143.14 1110.34L143.67 1108.55L144.22 1106.71L144.79 1104.82L145.37 1102.87L145.97 1100.88L146.59 1098.83L147.23 1096.73L147.88 1094.59L148.55 1092.4L149.25 1090.17L149.96 1087.9L150.68 1085.58L151.43 1083.23L152.19 1080.84L152.98 1078.41L153.78 1075.95L154.6 1073.46L155.44 1070.94L156.3 1068.38L157.18 1065.8L158.07 1063.2L158.99 1060.57L159.92 1057.92L160.88 1055.26L161.85 1052.57L162.84 1049.87L163.85 1047.15L164.89 1044.42L165.94 1041.68L167.01 1038.93L168.1 1036.17L169.21 1033.41L170.34 1030.64L171.49 1027.87L172.66 1025.1L173.84 1022.32L175.05 1019.55L176.28 1016.78L177.53 1014.02L178.8 1011.26L180.09 1008.51L181.4 1005.76L182.73 1003.03L184.08 1000.3L185.45 997.58L186.84 994.88L188.26 992.19L189.69 989.52L191.14 986.86L192.62 984.21L194.11 981.59L195.63 978.98L197.16 976.38L198.72 973.81L200.3 971.25L201.89 968.72L203.51 966.21L205.16 963.71L206.82 961.24L208.5 958.79L210.2 956.37L211.93 953.96L213.68 951.58L215.44 949.22L217.23 946.89L219.04 944.58L220.88 942.29L222.73 940.03L224.6 937.79L226.5 935.58L228.42 933.39L230.36 931.23L232.32 929.09L234.3 926.97L236.31 924.88L238.34 922.82L240.38 920.78L242.45 918.77L244.55 916.78L246.66 914.81L248.8 912.87L250.96 910.95L253.14 909.06L255.34 907.2L257.56 905.35L259.81 903.53L262.08 901.74L264.37 899.97L266.68 898.22L269.02 896.5L271.38 894.79L273.76 893.12L276.16 891.46L278.59 889.83L281.03 888.22L283.51 886.63L286 885.06L288.51 883.52L291.05 881.99L293.61 880.49L296.2 879.01L298.8 877.55L301.43 876.11L304.08 874.69L306.76 873.3L309.46 871.92L312.18 870.56L314.92 869.22L317.69 867.9L320.48 866.59L323.29 865.31L326.12 864.04L328.98 862.8L331.86 861.57L334.77 860.36L337.7 859.16L340.65 857.99L343.62 856.83L346.62 855.68L349.64 854.56L352.69 853.45L355.75 852.35L358.84 851.27L361.96 850.21L365.1 849.16L368.26 848.13L371.44 847.11L374.65 846.11L377.88 845.12L381.14 844.14L384.42 843.18L387.72 842.24L391.05 841.3L394.4 840.38L397.77 839.48L401.17 838.58L404.59 837.7L408.04 836.83L411.51 835.98L415 835.13L418.52 834.3L422.06 833.48L425.62 832.67L429.21 831.88L432.82 831.09L436.46 830.32L440.12 829.55L443.81 828.8L447.51 828.06L451.25 827.33L455 826.6L458.79 825.89L462.59 825.19L466.42 824.5L470.28 823.82L474.16 823.15L478.06 822.48L481.99 821.83L485.94 821.18L489.91 820.55L493.91 819.92L497.94 819.3L501.99 818.69L506.06 818.09L510.16 817.49L514.28 816.91L518.43 816.33L522.6 815.76L526.8 815.2L531.02 814.64L535.27 814.1L539.54 813.56L543.83 813.02L548.15 812.5L552.5 811.98L556.87 811.47L561.26 810.96L565.68 810.47L570.12 809.97L574.59 809.49L579.09 809.01L583.61 808.54L588.15 808.07L592.72 807.61L597.31 807.16L601.93 806.71L606.57 806.27L611.24 805.83L615.94 805.4L620.66 804.97L625.4 804.55L630.17 804.14L634.96 803.73L639.78 803.33L644.63 802.93L649.5 802.53L654.39 802.14L659.31 801.76L664.26 801.38L669.23 801.01L674.23 800.64L679.25 800.27L684.3 799.91L689.37 799.56L694.47 799.2L699.59 798.86L704.74 798.51L709.91 798.18L715.11 797.84L720.34 797.51L725.59 797.18L730.87 796.86L736.17 796.54L741.5 796.23L746.85 795.92L752.23 795.61L757.64 795.31L763.07 795.01L768.52 794.71L774 794.42L779.51 794.13L785.05 793.84L790.6 793.56L796.19 793.28" stroke="#ff4a4a" stroke-width="1.4" fill="none" stroke-linejoin="round" />
<path d="M181.5 832.9L197.7 832.9M189.6 824.8L189.6 841" stroke="#46ff46" stroke-width="1.3" fill="none"/>
<path d="M236.2 783.3L252.4 783.3M244.3 775.2L244.3 791.4" stroke="#46ff46" stroke-width="1.3" fill="none"/>
<path d="M346.6 771.1L362.8 771.1M354.7 763L354.7 779.2" stroke="#46ff46" stroke-width="1.3" fill="none"/>
<path d="M153.4 941.7L169.6 941.7M161.5 933.6L161.5 949.8" stroke="#46ff46" stroke-width="1.3" fill="none"/>
<path d="M139.4 1070.2L155.6 1070.2M147.5 1062.1L147.5 1078.3" stroke="#46ff46" stroke-width="1.3" fill="none"/>
<circle cx="217" cy="856.6" r="7.9" stroke="#4646ff" stroke-width="1.2" fill="none"/>
<circle cx="217" cy="856.6" r="2.9" fill="#0000ff"/>
<circle cx="299.6" cy="796.1" r="7.9" stroke="#4646ff" stroke-width="1.2" fill="none"/>
<circle cx="299.6" cy="796.1" r="2.9" fill="#0000ff"/>
<circle cx="464.7" cy="775.9" r="7.9" stroke="#4646ff" stroke-width="1.2" fill="none"/>
<circle cx="464.7" cy="775.9" r="2.9" fill="#0000ff"/>
<circle cx="796.2" cy="770.1" r="7.9" stroke="#4646ff" stroke-width="1.2" fill="none"/>
<circle cx="796.2" cy="770.1" r="2.9" fill="#0000ff"/>
<circle cx="175.5" cy="974.4" r="7.9" stroke="#4646ff" stroke-width="1.2" fill="none"/>
<circle cx="175.5" cy="974.4" r="2.9" fill="#0000ff"/>
<path d="M167 998.3L183.6 1014.9M167 1014.9L183.6 998.3" stroke="#ff4a4a" stroke-width="1.3" fill="none"/>
<path d="M208.6 936.6L225.2 953.2M208.6 953.2L225.2 936.6" stroke="#ff4a4a" stroke-width="1.3" fill="none"/>
<path d="M291.3 892L307.9 908.6M291.3 908.6L307.9 892" stroke="#ff4a4a" stroke-width="1.3" fill="none"/>
<path d="M456.4 824.8L473 841.4M456.4 841.4L473 824.8" stroke="#ff4a4a" stroke-width="1.3" fill="none"/>
<path d="M787.9 779.8L804.5 796.4M787.9 796.4L804.5 779.8" stroke="#ff4a4a" stroke-width="1.3" fill="none"/>
<line x1="134.6" y1="759.7" x2="134.6" y2="1170.7" stroke="#000000" stroke-width="1.8" />
<line x1="84.4" y1="1137.7" x2="797.2" y2="1137.7" stroke="#000000" stroke-width="1.8" />
<line x1="118.1" y1="1062.28" x2="134.6" y2="1062.28" stroke="#000000" stroke-width="1.8" />
<line x1="118.1" y1="986.86" x2="134.6" y2="986.86" stroke="#000000" stroke-width="1.8" />
<line x1="118.1" y1="911.44" x2="134.6" y2="911.44" stroke="#000000" stroke-width="1.8" />
<line x1="118.1" y1="836.02" x2="134.6" y2="836.02" stroke="#000000" stroke-width="1.8" />
<line x1="118.1" y1="760.6" x2="134.6" y2="760.6" stroke="#000000" stroke-width="1.8" />
<line x1="355.13" y1="1137.7" x2="355.13" y2="1150.7" stroke="#000000" stroke-width="1.8" />
<line x1="575.66" y1="1137.7" x2="575.66" y2="1150.7" stroke="#000000" stroke-width="1.8" />
<line x1="796.19" y1="1137.7" x2="796.19" y2="1150.7" stroke="#000000" stroke-width="1.8" />
<text x="109.3" y="761" font-size="23.3" text-anchor="end" fill="#000000" transform="translate(0 761) scale(1 1.02) translate(0 -761)" stroke="#000000" stroke-width="0.5" stroke-linejoin="round">1.0</text>
<text x="109.3" y="836.42" font-size="23.3" text-anchor="end" fill="#000000" transform="translate(0 836.42) scale(1 1.02) translate(0 -836.42)" stroke="#000000" stroke-width="0.5" stroke-linejoin="round">0.8</text>
<text x="109.3" y="911.84" font-size="23.3" text-anchor="end" fill="#000000" transform="translate(0 911.84) scale(1 1.02) translate(0 -911.84)" stroke="#000000" stroke-width="0.5" stroke-linejoin="round">0.6</text>
<text x="109.3" y="987.26" font-size="23.3" text-anchor="end" fill="#000000" transform="translate(0 987.26) scale(1 1.02) translate(0 -987.26)" stroke="#000000" stroke-width="0.5" stroke-linejoin="round">0.4</text>
<text x="109.3" y="1062.68" font-size="23.3" text-anchor="end" fill="#000000" transform="translate(0 1062.68) scale(1 1.02) translate(0 -1062.68)" stroke="#000000" stroke-width="0.5" stroke-linejoin="round">0.2</text>
<text x="99.8" y="1137.2" font-size="23.3" text-anchor="end" fill="#000000" transform="translate(0 1137.2) scale(1 1.02) translate(0 -1137.2)" stroke="#000000" stroke-width="0.5" stroke-linejoin="round">0</text>
<text x="134.6" y="1172.5" font-size="23.3" text-anchor="middle" fill="#000000" transform="translate(0 1172.5) scale(1 1.02) translate(0 -1172.5)" stroke="#000000" stroke-width="0.5" stroke-linejoin="round">0</text>
<text x="355.13" y="1172.5" font-size="23.3" text-anchor="middle" fill="#000000" transform="translate(0 1172.5) scale(1 1.02) translate(0 -1172.5)" stroke="#000000" stroke-width="0.5" stroke-linejoin="round">1.0</text>
<text x="575.66" y="1172.5" font-size="23.3" text-anchor="middle" fill="#000000" transform="translate(0 1172.5) scale(1 1.02) translate(0 -1172.5)" stroke="#000000" stroke-width="0.5" stroke-linejoin="round">2.0</text>
<text x="796.19" y="1172.5" font-size="23.3" text-anchor="middle" fill="#000000" transform="translate(0 1172.5) scale(1 1.02) translate(0 -1172.5)" stroke="#000000" stroke-width="0.5" stroke-linejoin="round">3.0</text>
<text x="444.3" y="1200.3" font-size="30.5" text-anchor="middle" fill="#000000" transform="translate(0 1200.3) scale(1 1.045) translate(0 -1200.3)" stroke="#000000" stroke-width="0.5" stroke-linejoin="round">Dose</text>
<text x="43.5" y="947.9" font-size="30.5" text-anchor="middle" fill="#000000" transform="rotate(-90 43.5 947.9) translate(0 947.9) scale(1 1.045) translate(0 -947.9)" stroke="#000000" stroke-width="0.5" stroke-linejoin="round">Effect</text>
<path d="M341.3 1083.5L358.1 1100.3M341.3 1100.3L358.1 1083.5" stroke="#ff4a4a" stroke-width="1.3" fill="none"/>
<text x="360.6" y="1100.35" font-size="24.3" text-anchor="start" fill="#231f20" textLength="48.6" lengthAdjust="spacingAndGlyphs" stroke="#231f20" stroke-width="0.2" stroke-linejoin="round">5-FU</text>
<path d="M445.1 1091.5L461.3 1091.5M453.2 1083.4L453.2 1099.6" stroke="#46ff46" stroke-width="1.3" fill="none"/>
<text x="463" y="1100.35" font-size="24.3" text-anchor="start" fill="#231f20" textLength="115" lengthAdjust="spacingAndGlyphs" stroke="#231f20" stroke-width="0.2" stroke-linejoin="round">Oxaliplatin</text>
<circle cx="618.3" cy="1091.65" r="7.9" stroke="#4646ff" stroke-width="1.2" fill="none"/>
<circle cx="618.3" cy="1091.65" r="2.9" fill="#0000ff"/>
<text x="629.1" y="1100.35" font-size="24.3" text-anchor="start" fill="#231f20" textLength="82.5" lengthAdjust="spacingAndGlyphs" stroke="#231f20" stroke-width="0.2" stroke-linejoin="round">Mixture</text>
<path d="M996.8 814.2L996.83 814.23L996.91 814.33L997.04 814.48L997.23 814.69L997.47 814.96L997.76 815.29L998.11 815.68L998.51 816.11L998.97 816.6L999.47 817.14L1000.03 817.72L1000.65 818.34L1001.31 819L1002.03 819.7L1002.8 820.43L1003.63 821.19L1004.5 821.98L1005.43 822.79L1006.4 823.62L1007.43 824.47L1008.51 825.34L1009.64 826.22L1010.82 827.11L1012.06 828.01L1013.34 828.91L1014.67 829.82L1016.05 830.74L1017.48 831.65L1018.95 832.56L1020.48 833.47L1022.05 834.38L1023.67 835.28L1025.34 836.18L1027.05 837.07L1028.81 837.95L1030.62 838.83L1032.47 839.7L1034.37 840.56L1036.31 841.4L1038.29 842.24L1040.32 843.07L1042.39 843.89L1044.5 844.69L1046.66 845.49L1048.85 846.27L1051.09 847.04L1053.37 847.8L1055.68 848.55L1058.04 849.28L1060.43 850.01L1062.86 850.72L1065.33 851.42L1067.84 852.11L1070.38 852.79L1072.96 853.46L1075.57 854.11L1078.22 854.76L1080.9 855.39L1083.61 856.01L1086.35 856.62L1089.13 857.22L1091.94 857.81L1094.77 858.39L1097.64 858.96L1100.54 859.52L1103.46 860.07L1106.41 860.6L1109.39 861.13L1112.39 861.65L1115.42 862.16L1118.47 862.66L1121.55 863.16L1124.65 863.64L1127.77 864.11L1130.91 864.58L1134.07 865.04L1137.26 865.49L1140.46 865.93L1143.68 866.36L1146.92 866.78L1150.17 867.2L1153.44 867.61L1156.72 868.01L1160.02 868.41L1163.33 868.79L1166.66 869.17L1169.99 869.55L1173.34 869.91L1176.7 870.27L1180.06 870.62L1183.44 870.97L1186.82 871.31L1190.21 871.64L1193.6 871.97L1197 872.29L1200.41 872.61L1203.82 872.91L1207.23 873.22L1210.64 873.52L1214.05 873.81L1217.46 874.09L1220.87 874.37L1224.28 874.65L1227.69 874.92L1231.1 875.18L1234.5 875.44L1237.89 875.7L1241.28 875.94L1244.66 876.19L1248.04 876.43L1251.4 876.66L1254.76 876.89L1258.11 877.12L1261.44 877.34L1264.77 877.55L1268.08 877.76L1271.38 877.97L1274.66 878.17L1277.93 878.37L1281.18 878.56L1284.42 878.75L1287.64 878.93L1290.84 879.12L1294.03 879.29L1297.19 879.46L1300.33 879.63L1303.45 879.8L1306.55 879.96L1309.63 880.11L1312.68 880.27L1315.71 880.42L1318.71 880.56L1321.69 880.7L1324.64 880.84L1327.56 880.98L1330.46 881.11L1333.33 881.24L1336.16 881.36L1338.97 881.48L1341.75 881.6L1344.49 881.71L1347.2 881.82L1349.88 881.93L1352.53 882.04L1355.14 882.14L1357.72 882.24L1360.26 882.33L1362.77 882.42L1365.24 882.51L1367.67 882.6L1370.06 882.68L1372.42 882.76L1374.73 882.84L1377.01 882.92L1379.25 882.99L1381.44 883.06L1383.6 883.13L1385.71 883.19L1387.78 883.25L1389.81 883.31L1391.79 883.37L1393.73 883.42L1395.63 883.48L1397.48 883.53L1399.29 883.58L1401.05 883.62L1402.76 883.67L1404.43 883.71L1406.05 883.75L1407.62 883.79L1409.15 883.83L1410.62 883.86L1412.05 883.89L1413.43 883.92L1414.76 883.95L1416.04 883.98L1417.28 884.01L1418.46 884.03L1419.59 884.06L1420.67 884.08L1421.7 884.1L1422.67 884.12L1423.6 884.14L1424.47 884.15L1425.3 884.17L1426.07 884.18L1426.79 884.2L1427.45 884.21L1428.07 884.22L1428.63 884.23L1429.13 884.24L1429.59 884.25L1429.99 884.25L1430.34 884.26L1430.63 884.26L1430.87 884.27L1431.06 884.27L1431.19 884.27L1431.27 884.27L1431.3 884.27" stroke="#ff4a4a" stroke-width="1.4" fill="none" stroke-linejoin="round" />
<path d="M1504.8 884.29L1504.81 884.29L1504.83 884.29L1504.86 884.29L1504.91 884.28L1504.97 884.28L1505.05 884.28L1505.14 884.28L1505.25 884.28L1505.36 884.27L1505.5 884.27L1505.64 884.27L1505.8 884.26L1505.98 884.26L1506.16 884.26L1506.36 884.25L1506.58 884.25L1506.81 884.24L1507.05 884.23L1507.3 884.23L1507.57 884.22L1507.85 884.22L1508.15 884.21L1508.45 884.2L1508.77 884.19L1509.11 884.18L1509.46 884.17L1509.81 884.16L1510.19 884.15L1510.57 884.14L1510.97 884.13L1511.38 884.12L1511.8 884.11L1512.24 884.1L1512.68 884.08L1513.14 884.07L1513.61 884.05L1514.09 884.04L1514.59 884.02L1515.09 884.01L1515.61 883.99L1516.14 883.97L1516.68 883.96L1517.23 883.94L1517.79 883.92L1518.36 883.9L1518.94 883.88L1519.54 883.85L1520.14 883.83L1520.75 883.81L1521.38 883.78L1522.01 883.76L1522.65 883.73L1523.31 883.7L1523.97 883.68L1524.64 883.65L1525.32 883.62L1526.01 883.59L1526.71 883.56L1527.42 883.52L1528.13 883.49L1528.85 883.45L1529.59 883.42L1530.33 883.38L1531.07 883.34L1531.83 883.3L1532.59 883.26L1533.36 883.22L1534.13 883.17L1534.92 883.13L1535.7 883.08L1536.5 883.03L1537.3 882.98L1538.11 882.93L1538.92 882.88L1539.74 882.82L1540.56 882.77L1541.39 882.71L1542.23 882.65L1543.07 882.59L1543.91 882.53L1544.76 882.46L1545.61 882.39L1546.46 882.33L1547.32 882.26L1548.19 882.18L1549.05 882.11L1549.92 882.03L1550.79 881.95L1551.67 881.87L1552.55 881.79L1553.42 881.7L1554.31 881.61L1555.19 881.52L1556.07 881.43L1556.96 881.33L1557.85 881.24L1558.73 881.13L1559.62 881.03L1560.51 880.92L1561.4 880.81L1562.29 880.7L1563.18 880.59L1564.07 880.47L1564.95 880.35L1565.84 880.22L1566.73 880.09L1567.61 879.96L1568.49 879.83L1569.38 879.69L1570.25 879.55L1571.13 879.4L1572.01 879.25L1572.88 879.1L1573.75 878.94L1574.61 878.78L1575.48 878.61L1576.34 878.44L1577.19 878.27L1578.04 878.09L1578.89 877.91L1579.73 877.72L1580.57 877.53L1581.41 877.33L1582.24 877.13L1583.06 876.92L1583.88 876.71L1584.69 876.49L1585.5 876.27L1586.3 876.04L1587.1 875.81L1587.88 875.57L1588.67 875.32L1589.44 875.07L1590.21 874.81L1590.97 874.55L1591.73 874.28L1592.47 874.01L1593.21 873.72L1593.95 873.43L1594.67 873.14L1595.38 872.83L1596.09 872.53L1596.79 872.21L1597.48 871.88L1598.16 871.55L1598.83 871.21L1599.49 870.87L1600.15 870.51L1600.79 870.15L1601.42 869.78L1602.05 869.41L1602.66 869.02L1603.26 868.63L1603.86 868.23L1604.44 867.82L1605.01 867.41L1605.57 866.98L1606.12 866.55L1606.66 866.11L1607.19 865.66L1607.71 865.21L1608.21 864.75L1608.71 864.28L1609.19 863.8L1609.66 863.32L1610.12 862.83L1610.56 862.34L1611 861.84L1611.42 861.34L1611.83 860.83L1612.23 860.32L1612.61 859.8L1612.99 859.29L1613.34 858.77L1613.69 858.25L1614.03 857.74L1614.35 857.23L1614.65 856.71L1614.95 856.21L1615.23 855.71L1615.5 855.22L1615.75 854.74L1615.99 854.26L1616.22 853.81L1616.44 853.36L1616.64 852.94L1616.82 852.53L1617 852.14L1617.16 851.77L1617.3 851.43L1617.44 851.12L1617.55 850.83L1617.66 850.57L1617.75 850.34L1617.83 850.15L1617.89 849.99L1617.94 849.86L1617.97 849.77L1617.99 849.71L1618 849.69" stroke="#ff4a4a" stroke-width="1.4" fill="none" stroke-linejoin="round" />
<line x1="962.5" y1="885" x2="1627" y2="885" stroke="#454545" stroke-width="1.7" stroke-dasharray="14.3 5.4" style="mix-blend-mode:multiply"/>
<line x1="1395.9" y1="885.1" x2="1410.2" y2="885.1" stroke="#7d0a0a" stroke-width="1.6" />
<line x1="1415.6" y1="885.1" x2="1431" y2="885.1" stroke="#7d0a0a" stroke-width="1.6" />
<line x1="1505" y1="885.1" x2="1508.7" y2="885.1" stroke="#7d0a0a" stroke-width="1.6" />
<line x1="1514.1" y1="885.1" x2="1528.4" y2="885.1" stroke="#7d0a0a" stroke-width="1.6" />
<path d="M1242.1 821.6L1258.7 838.2M1242.1 838.2L1258.7 821.6" stroke="#ff4a4a" stroke-width="1.3" fill="none"/>
<path d="M1449.8 890.8L1466.4 907.4M1449.8 907.4L1466.4 890.8" stroke="#ff4a4a" stroke-width="1.3" fill="none"/>
<path d="M1555.8 913.8L1572.4 930.4M1555.8 930.4L1572.4 913.8" stroke="#ff4a4a" stroke-width="1.3" fill="none"/>
<path d="M1592.5 895.5L1609.1 912.1M1592.5 912.1L1609.1 895.5" stroke="#ff4a4a" stroke-width="1.3" fill="none"/>
<path d="M1602.3 791.3L1618.9 807.9M1602.3 807.9L1618.9 791.3" stroke="#ff4a4a" stroke-width="1.3" fill="none"/>
<line x1="962.4" y1="757.4" x2="962.4" y2="1169.8" stroke="#000000" stroke-width="1.8" />
<line x1="912.4" y1="1136.8" x2="1627.3" y2="1136.8" stroke="#000000" stroke-width="1.8" />
<line x1="946.2" y1="1010.63" x2="962.4" y2="1010.63" stroke="#000000" stroke-width="1.8" />
<line x1="946.2" y1="884.47" x2="962.4" y2="884.47" stroke="#000000" stroke-width="1.8" />
<line x1="946.2" y1="758.3" x2="962.4" y2="758.3" stroke="#000000" stroke-width="1.8" />
<line x1="1094.4" y1="1136.8" x2="1094.4" y2="1149.8" stroke="#000000" stroke-width="1.8" />
<line x1="1227.2" y1="1136.8" x2="1227.2" y2="1149.8" stroke="#000000" stroke-width="1.8" />
<line x1="1360.2" y1="1136.8" x2="1360.2" y2="1149.8" stroke="#000000" stroke-width="1.8" />
<line x1="1493.2" y1="1136.8" x2="1493.2" y2="1149.8" stroke="#000000" stroke-width="1.8" />
<line x1="1626.4" y1="1136.8" x2="1626.4" y2="1149.8" stroke="#000000" stroke-width="1.8" />
<text x="937" y="758.8" font-size="23.3" text-anchor="end" fill="#000000" transform="translate(0 758.8) scale(1 1.02) translate(0 -758.8)" stroke="#000000" stroke-width="0.5" stroke-linejoin="round">1.5</text>
<text x="937" y="884.97" font-size="23.3" text-anchor="end" fill="#000000" transform="translate(0 884.97) scale(1 1.02) translate(0 -884.97)" stroke="#000000" stroke-width="0.5" stroke-linejoin="round">1.0</text>
<text x="937" y="1011.13" font-size="23.3" text-anchor="end" fill="#000000" transform="translate(0 1011.13) scale(1 1.02) translate(0 -1011.13)" stroke="#000000" stroke-width="0.5" stroke-linejoin="round">0.5</text>
<text x="927.1" y="1136.4" font-size="23.3" text-anchor="end" fill="#000000" transform="translate(0 1136.4) scale(1 1.02) translate(0 -1136.4)" stroke="#000000" stroke-width="0.5" stroke-linejoin="round">0</text>
<text x="962.2" y="1171.6" font-size="23.3" text-anchor="middle" fill="#000000" transform="translate(0 1171.6) scale(1 1.02) translate(0 -1171.6)" stroke="#000000" stroke-width="0.5" stroke-linejoin="round">0</text>
<text x="1094.2" y="1171.6" font-size="23.3" text-anchor="middle" fill="#000000" transform="translate(0 1171.6) scale(1 1.02) translate(0 -1171.6)" stroke="#000000" stroke-width="0.5" stroke-linejoin="round">0.2</text>
<text x="1227" y="1171.6" font-size="23.3" text-anchor="middle" fill="#000000" transform="translate(0 1171.6) scale(1 1.02) translate(0 -1171.6)" stroke="#000000" stroke-width="0.5" stroke-linejoin="round">0.4</text>
<text x="1360" y="1171.6" font-size="23.3" text-anchor="middle" fill="#000000" transform="translate(0 1171.6) scale(1 1.02) translate(0 -1171.6)" stroke="#000000" stroke-width="0.5" stroke-linejoin="round">0.6</text>
<text x="1493" y="1171.6" font-size="23.3" text-anchor="middle" fill="#000000" transform="translate(0 1171.6) scale(1 1.02) translate(0 -1171.6)" stroke="#000000" stroke-width="0.5" stroke-linejoin="round">0.8</text>
<text x="1626.2" y="1171.6" font-size="23.3" text-anchor="middle" fill="#000000" transform="translate(0 1171.6) scale(1 1.02) translate(0 -1171.6)" stroke="#000000" stroke-width="0.5" stroke-linejoin="round">1.0</text>
<text x="1273.1" y="1200.3" font-size="30.5" text-anchor="middle" fill="#000000" transform="translate(0 1200.3) scale(1 1.045) translate(0 -1200.3)" stroke="#000000" stroke-width="0.5" stroke-linejoin="round">Effect</text>
<text x="870.5" y="947" font-size="30.5" text-anchor="middle" fill="#000000" transform="rotate(-90 870.5 947) translate(0 947) scale(1 1.045) translate(0 -947)" stroke="#000000" stroke-width="0.5" stroke-linejoin="round">CI</text>
<path d="M988.6 1083.5L1005.4 1100.3M988.6 1100.3L1005.4 1083.5" stroke="#ff4a4a" stroke-width="1.3" fill="none"/>
<text x="1005.6" y="1100.4" font-size="24.3" text-anchor="start" fill="#231f20" textLength="82.5" lengthAdjust="spacingAndGlyphs" stroke="#231f20" stroke-width="0.2" stroke-linejoin="round">Mixture</text>
<text x="1343.5" y="1122.1" font-size="23.3" text-anchor="middle" fill="#000000" transform="translate(0 1122.1) scale(1 1.02) translate(0 -1122.1)" stroke="#000000" stroke-width="0.5" stroke-linejoin="round">CI = 1.0</text>
<text x="872.6" y="33.1" font-size="42.6" text-anchor="middle" fill="#231f20" font-weight="bold" textLength="219.8" lengthAdjust="spacingAndGlyphs" stroke="#231f20" stroke-width="0.7" stroke-linejoin="round">UWG01CTC</text>
<text x="872.6" y="664.4" font-size="42.6" text-anchor="middle" fill="#231f20" font-weight="bold" textLength="219.8" lengthAdjust="spacingAndGlyphs" stroke="#231f20" stroke-width="0.7" stroke-linejoin="round">UWG02CTC</text>
<text x="0.5" y="59.45" font-size="86.6" text-anchor="start" fill="#231f20" transform="translate(0.5 0) scale(0.845 1) translate(-0.5 0)" stroke="#231f20" stroke-width="0.5" stroke-linejoin="round">A</text>
<text x="-0.9" y="686.7" font-size="86.8" text-anchor="start" fill="#231f20" transform="translate(-0.9 0) scale(0.8 1) translate(0.9 0)" stroke="#231f20" stroke-width="0.5" stroke-linejoin="round">B</text>
</svg>
</body>
</html>
